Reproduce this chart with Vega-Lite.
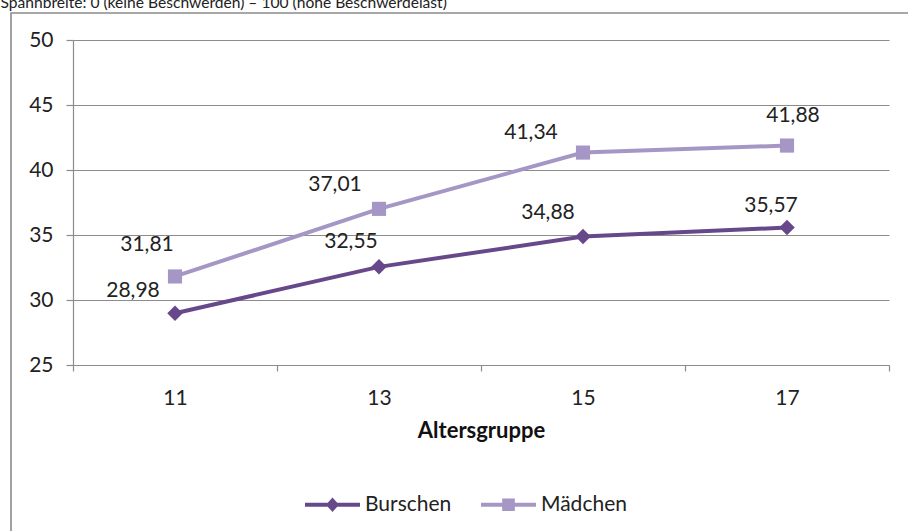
{
  "$schema": "https://vega.github.io/schema/vega-lite/v6.json",
  "autosize": {"type": "none"},
  "width": 816,
  "height": 325,
  "padding": {"left": 73, "top": 40, "right": 19, "bottom": 166},
  "background": "white",
  "data": {
    "values": [
      {"age": "11", "g": "Burschen", "v": 28.98},
      {"age": "13", "g": "Burschen", "v": 32.55},
      {"age": "15", "g": "Burschen", "v": 34.88},
      {"age": "17", "g": "Burschen", "v": 35.57},
      {"age": "11", "g": "Mädchen", "v": 31.81},
      {"age": "13", "g": "Mädchen", "v": 37.01},
      {"age": "15", "g": "Mädchen", "v": 41.34},
      {"age": "17", "g": "Mädchen", "v": 41.88}
    ]
  },
  "encoding": {
    "x": {
      "field": "age",
      "type": "nominal",
      "sort": ["11", "13", "15", "17"],
      "scale": {"type": "band", "paddingInner": 0, "paddingOuter": 0},
      "axis": {
        "title": "Altersgruppe",
        "labelAngle": 0,
        "tickBand": "extent",
        "tickSize": 6,
        "labelPadding": 16,
        "titlePadding": 12,
        "titleFontWeight": "bold",
        "titleFontSize": 22
      }
    },
    "y": {
      "field": "v",
      "type": "quantitative",
      "scale": {"domain": [25, 50], "nice": false, "zero": false},
      "axis": {
        "title": "Spannbreite: 0 (keine Beschwerden) – 100 (hohe Beschwerdelast)",
        "titleAngle": 0,
        "titleAlign": "left",
        "titleBaseline": "alphabetic",
        "titleX": -73,
        "titleY": -33,
        "titleFontWeight": "normal",
        "titleFontSize": 15.6,
        "titleColor": "#222222",
        "values": [25, 30, 35, 40, 45, 50],
        "tickSize": 7,
        "labelPadding": 13,
        "grid": true
      }
    }
  },
  "layer": [
    {
      "mark": {"type": "line", "strokeWidth": 4},
      "encoding": {
        "color": {
          "field": "g",
          "type": "nominal",
          "scale": {"domain": ["Burschen", "Mädchen"], "range": ["#67498b", "#a696c5"]},
          "legend": {
            "orient": "none",
            "legendX": -62,
            "legendY": -27,
            "direction": "horizontal",
            "padding": 294,
            "strokeColor": "#8a8a8a",
            "title": " ",
            "titleFontSize": 1,
            "titlePadding": 169,
            "symbolSize": 3025,
            "symbolStrokeWidth": 0,
            "labelFont": "Lato",
            "labelFontSize": 21,
            "labelColor": "#222222",
            "labelOffset": 5,
            "columnPadding": 29,
            "encode": {
              "legend": {"update": {"strokeWidth": {"value": 1.6}}},
              "symbols": {
                "update": {
                  "shape": {"signal": "datum.value === 'Burschen' ? 'M-1,-0.07L1,-0.07L1,0.07L-1,0.07Z M0,-0.26L0.24,0L0,0.26L-0.24,0Z' : 'M-1,-0.07L1,-0.07L1,0.07L-1,0.07Z M-0.23,-0.23L0.23,-0.23L0.23,0.23L-0.23,0.23Z'"},
                  "fill": {"scale": "color", "field": "value"},
                  "fillOpacity": {"value": 1},
                  "strokeWidth": {"value": 0}
                }
              }
            }
          }
        }
      }
    },
    {
      "transform": [{"filter": "datum.g === 'Burschen'"}],
      "mark": {"type": "point", "filled": true, "opacity": 1, "shape": "diamond", "size": 240, "color": "#67498b"}
    },
    {
      "transform": [{"filter": "datum.g === 'Mädchen'"}],
      "mark": {"type": "point", "filled": true, "opacity": 1, "shape": "square", "size": 200, "color": "#a696c5"}
    },
    {
      "mark": {
        "type": "text",
        "font": "Lato",
        "fontSize": 21,
        "color": "#222222",
        "baseline": "middle",
        "align": "center",
        "dx": {"expr": "datum.g === 'Burschen' ? (datum.age === '11' ? -42 : datum.age === '13' ? -28 : datum.age === '15' ? -35 : -16) : (datum.age === '11' ? -28 : datum.age === '13' ? -44 : datum.age === '15' ? -52 : 6)"},
        "dy": {"expr": "datum.g === 'Burschen' ? (datum.age === '11' ? -22 : datum.age === '13' ? -25 : datum.age === '15' ? -24 : -22) : (datum.age === '11' ? -31 : datum.age === '13' ? -24 : datum.age === '15' ? -20 : -30)"}
      },
      "encoding": {
        "text": {"field": "v", "type": "quantitative", "format": ".2f"}
      }
    }
  ],
  "config": {
    "locale": {"number": {"decimal": ",", "thousands": ".", "grouping": [3], "currency": ["", " €"]}},
    "view": {"stroke": null},
    "axis": {
      "labelFont": "Lato",
      "labelFontSize": 21,
      "labelColor": "#222222",
      "titleFont": "Lato",
      "titleColor": "#111111",
      "domainColor": "#8c8c8c",
      "domainWidth": 1.2,
      "tickColor": "#8c8c8c",
      "tickWidth": 1.2,
      "gridColor": "#8c8c8c",
      "gridWidth": 1.2,
      "gridOpacity": 1
    }
  }
}
